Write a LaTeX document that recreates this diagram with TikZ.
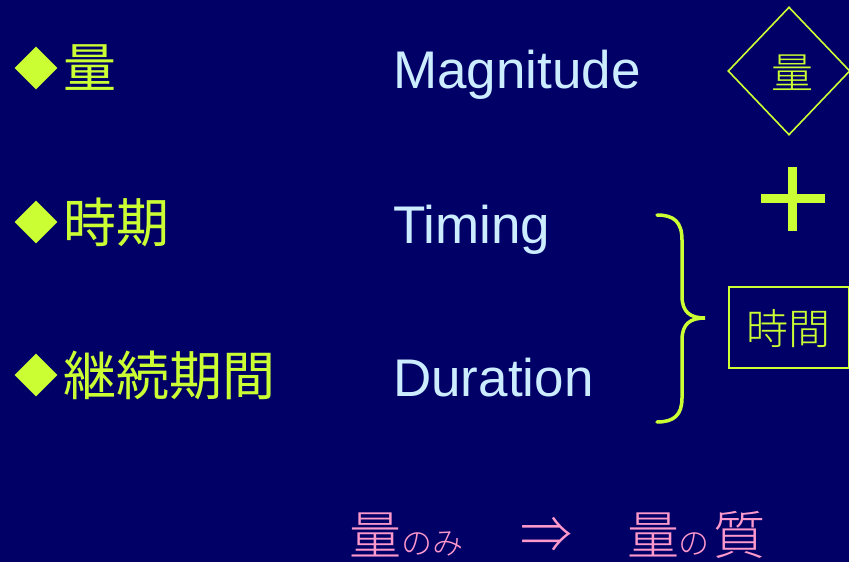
\documentclass[tikz,border=0pt]{standalone}
\usepackage{fontspec}
\setmainfont{Liberation Sans}
\newfontfamily\cjk{Noto Sans CJK JP}
\newfontfamily\cjkl{Noto Sans CJK JP Light}
\usetikzlibrary{shapes.geometric}
\definecolor{bg}{HTML}{000066}
\definecolor{ylw}{HTML}{CCFF33}
\definecolor{lblue}{HTML}{CCECFF}
\definecolor{pnk}{HTML}{FF99CC}
\tikzset{
  bulletmark/.style={diamond,fill=ylw,inner sep=0pt,minimum width=43pt,minimum height=43pt},
  jplabel/.style={inner sep=0pt,text=ylw,font=\cjk\fontsize{53}{60}\selectfont,anchor=west},
  enlabel/.style={inner sep=0pt,text=lblue,font=\fontsize{53}{60}\selectfont,anchor=base west},
  thinjp/.style={inner sep=0pt,text=ylw,font=\cjkl\fontsize{42}{50}\selectfont},
  pinkbig/.style={inner sep=0pt,text=pnk,font=\cjkl\fontsize{52}{60}\selectfont,anchor=base west},
  pinksmall/.style={inner sep=0pt,text=pnk,font=\cjkl\fontsize{31}{40}\selectfont,anchor=base west},
  ylwline/.style={draw=ylw,line width=2pt}
}
\begin{document}
\begin{tikzpicture}[x=1pt,y=-1pt]
\fill[bg] (0,0) rectangle (849,562);
\useasboundingbox (0,0) rectangle (849,562);
% bullets
\node[bulletmark] (b1) at (36,68) {};
\node[bulletmark] (b2) at (36,222) {};
\node[bulletmark] (b3) at (36,375) {};
\node[jplabel] (k1) at (63,68) {量};
\node[jplabel] (k2) at (63,222) {時期};
\node[jplabel] (k3) at (63,375) {継続期間};
% english
\node[enlabel] (e1) at (393,88) {Magnitude};
\node[enlabel] (e2) at (393,243) {Timing};
\node[enlabel] (e3) at (393,396) {Duration};
% right side
\node[diamond,draw=ylw,line width=1.6pt,minimum width=122pt,minimum height=128pt,inner sep=0pt] (dq) at (789,71) {};
\node[thinjp] (tq) at (792,73) {量};
\coordinate (pl) at (761,198.5);
\coordinate (pr) at (825,198.5);
\coordinate (pt) at (792.5,167);
\coordinate (pb) at (792.5,231);
\draw[ylw,line width=9pt] (pl) -- (pr);
\draw[ylw,line width=9pt] (pt) -- (pb);
\node[ylwline,minimum width=120pt,minimum height=81pt,inner sep=0pt] (box) at (788.5,327) {};
\node[thinjp] (tj) at (788,329) {時間};
% brace
\coordinate (bt) at (657,215);
\coordinate (btip) at (705,318);
\coordinate (bb) at (657,422);
\draw[ylw,line width=3.5pt,line cap=round]
  (bt) .. controls (674,215) and (682,222) .. (682,240) -- (682,296)
  .. controls (682,312) and (690,318) .. (btip)
  .. controls (690,318) and (682,324) .. (682,340) -- (682,398)
  .. controls (682,415) and (674,422) .. (bb);
% bottom line
\node[pinkbig] (p1) at (349,554) {量};
\node[pinksmall,anchor=base west] (p2) at (p1.base east) {のみ};
\node[inner sep=0pt,text=pnk,font=\cjkl\fontsize{52}{60}\selectfont] (arr) at (546,535) {⇒};
\node[pinkbig] (p3) at (627,554) {量};
\node[pinksmall,anchor=base west] (p4) at ([xshift=-1pt]p3.base east) {の};
\node[pinkbig,anchor=base west] (p5) at ([xshift=3pt]p4.base east) {質};
\end{tikzpicture}
\end{document}
